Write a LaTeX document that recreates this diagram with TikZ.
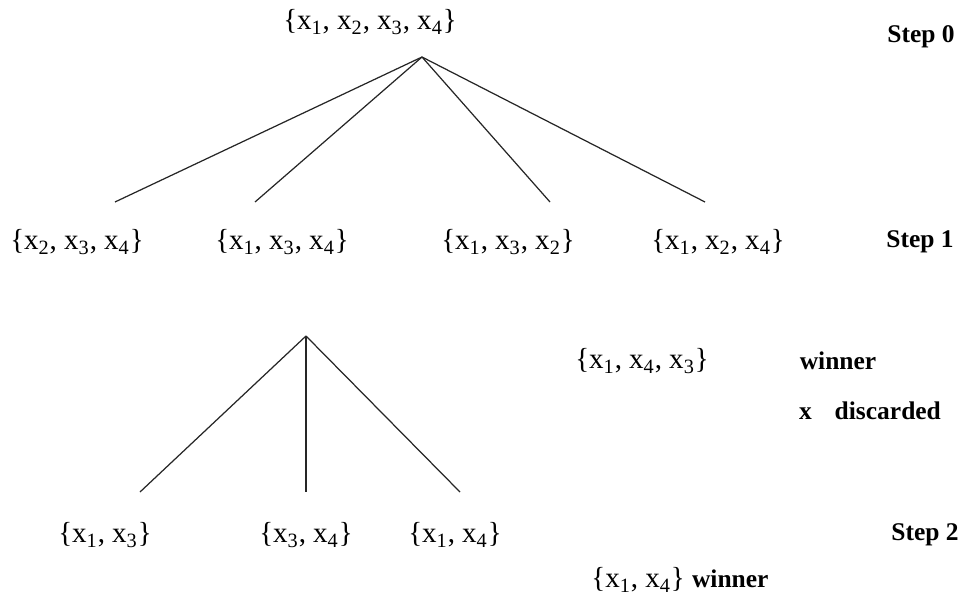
\documentclass[tikz,border=0pt]{standalone}
\usepackage{fontspec}
\setmainfont{Liberation Serif}
\newcommand{\xs}[1]{x\textsubscript{#1}}
\tikzset{
    setlbl/.style={font=\fontsize{16.5}{18}\selectfont, inner sep=0pt},
    steplbl/.style={font=\fontsize{14.5}{16}\selectfont\bfseries, inner sep=0pt},
    branch/.style={line width=0.7pt, black!85}
}
\begin{document}
\begin{tikzpicture}[x=0.02cm, y=-0.02cm]
    \useasboundingbox (0,0) rectangle (963,601);
    % 1. Bước 0
    \node[setlbl] (root) at (370,22) {\{\xs{1}, \xs{2}, \xs{3}, \xs{4}\}};
    \node[steplbl] (step0) at (921,37) {Step 0};
    \coordinate (top) at (422,57);
    \coordinate (e1) at (115,202);
    \coordinate (e2) at (255,202);
    \coordinate (e3) at (550,202);
    \coordinate (e4) at (705,202);
    \draw[branch] (top) -- (e1);
    \draw[branch] (top) -- (e2);
    \draw[branch] (top) -- (e3);
    \draw[branch] (top) -- (e4);

    % 2. Bước 1
    \node[setlbl] (s1a) at (77,242) {\{\xs{2}, \xs{3}, \xs{4}\}};
    \node[setlbl] (s1b) at (282,242) {\{\xs{1}, \xs{3}, \xs{4}\}};
    \node[setlbl] (s1c) at (508,242) {\{\xs{1}, \xs{3}, \xs{2}\}};
    \node[setlbl] (s1d) at (718,242) {\{\xs{1}, \xs{2}, \xs{4}\}};
    \node[steplbl] (step1) at (920,242) {Step 1};

    % 3. Kết quả bước 1
    \node[setlbl] (win1) at (642,361) {\{\xs{1}, \xs{4}, \xs{3}\}};
    \node[steplbl] (win1lbl) at (838,361) {winner};
    \node[steplbl] (discard) at (870,411) {x\hspace{0.9em}discarded};

    % 4. Bước 2
    \coordinate (mid) at (306,336);
    \coordinate (f1) at (140,492);
    \coordinate (f2) at (306,492);
    \coordinate (f3) at (460,492);
    \draw[branch] (mid) -- (f1);
    \draw[branch] (mid) -- (f2);
    \draw[branch] (mid) -- (f3);
    \node[setlbl] (s2a) at (105,535) {\{\xs{1}, \xs{3}\}};
    \node[setlbl] (s2b) at (306,535) {\{\xs{3}, \xs{4}\}};
    \node[setlbl] (s2c) at (455,535) {\{\xs{1}, \xs{4}\}};
    \node[steplbl] (step2) at (925,535) {Step 2};

    % 5. Kết quả bước 2
    \node[setlbl] (win2) at (680,580) {\{\xs{1}, \xs{4}\} {\fontsize{14.5}{16}\selectfont\textbf{winner}}};
\end{tikzpicture}
\end{document}
